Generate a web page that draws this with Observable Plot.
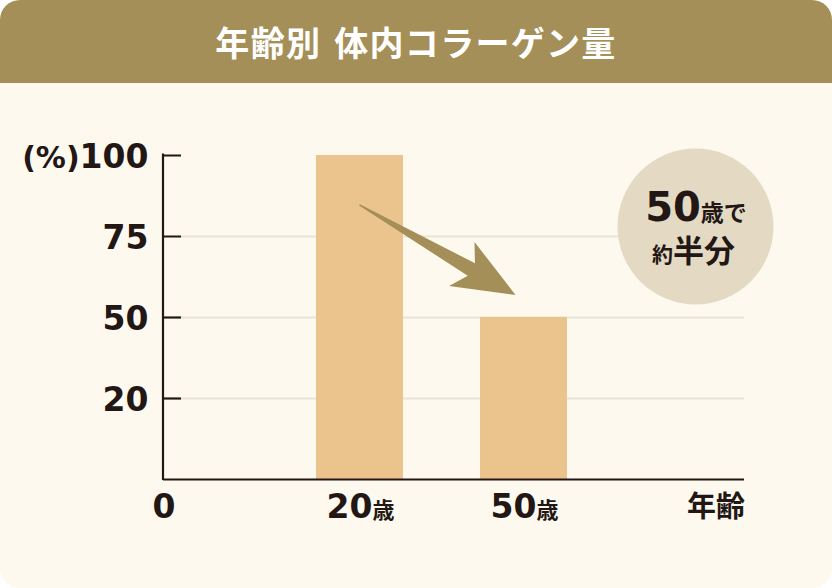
<!DOCTYPE html>
<html>
<head>
<meta charset="utf-8">
<script src="https://cdn.jsdelivr.net/npm/d3@7"></script>
<script src="https://cdn.jsdelivr.net/npm/@observablehq/plot@0.6"></script>
<style>
  html, body { margin: 0; padding: 0; background: #ffffff; }
  #card { width: 832px; height: 588px; background: #fdf9ef; border-radius: 20px; overflow: hidden; position: relative; }
  #hdr { height: 83px; background: #a58f58; color: #ffffff; font: 700 34px "Noto Sans CJK JP", sans-serif;
         display: flex; align-items: center; justify-content: center; letter-spacing: 1.3px; }
  #hdr .sp { display: inline-block; width: 13px; }
  #chart svg { display: block; }
</style>
</head>
<body>
<div id="card">
  <div id="hdr"></div>
  <div id="chart"></div>
</div>
<script>
// ---- data ----
const titleParts = ["年齢別", "体内コラーゲン量"];
const ages = ["20歳", "50歳"];
const collagen = [100, 50];
const yTickValues = [25, 50, 75, 100];
const yTickLabels = ["20", "50", "75", "(%)100"];
const gridValues = [25, 50, 75];
const xAxisTitle = "年齢";
const zeroLabel = "0";
const noteLine1 = [["50", "big"], ["歳で", "small"]];
const noteLine2 = [["約", "small"], ["半分", "mid"]];
const arrowStartValue = 84.6;
const arrowEndValue = 56.8;

// ---- styling ----
const INK = "#221714";
const DIGIT = "'DejaVu Sans', sans-serif";
const CJK = "'Noto Sans CJK JP', sans-serif";

document.getElementById("hdr").innerHTML =
  titleParts[0] + '<span class="sp"></span>' + titleParts[1];

const table = ages.map((age, i) => ({age, value: collagen[i]}));

function isDigit(s) { return /^[0-9()%]+$/.test(s); }

function richText(parts, x, y, anchor, sizes) {
  const t = d3.create("svg:text")
    .attr("x", x).attr("y", y)
    .attr("text-anchor", anchor)
    .attr("fill", INK)
    .attr("font-weight", 700);
  for (const [s, kind] of parts) {
    t.append("tspan")
      .attr("font-size", sizes[kind])
      .attr("font-family", isDigit(s) ? DIGIT : CJK)
      .text(s);
  }
  return t.node();
}

function bandwidthOf(x) {
  if (typeof x.bandwidth === "function") return x.bandwidth();
  if (typeof x.bandwidth === "number") return x.bandwidth;
  return 0;
}

// y axis line
function yAxisLine(index, scales, values, dims) {
  return d3.create("svg:line")
    .attr("x1", dims.marginLeft).attr("x2", dims.marginLeft)
    .attr("y1", dims.marginTop - 1.5)
    .attr("y2", dims.height - dims.marginBottom + 1)
    .attr("stroke", INK).attr("stroke-width", 2.2).node();
}

// x labels
function xLabels(index, {x}, values, dims) {
  const g = d3.create("svg:g");
  const bw = bandwidthOf(x);
  const yb = dims.height - dims.marginBottom + 39;
  for (const a of ages) {
    const m = a.match(/^(\d+)(.*)$/);
    g.append(() => richText([[m[1], "d"], [m[2], "c"]], x(a) + bw / 2 + 1, yb, "middle", {d: 33, c: 22}));
  }
  g.append(() => richText([[zeroLabel, "d"]], dims.marginLeft + 1, yb, "middle", {d: 33}));
  g.append(() => richText([[xAxisTitle, "c"]], dims.width - dims.marginRight + 1, yb - 1, "end", {c: 29}));
  return g.node();
}

// arrow
function arrowMark(index, {x, y}) {
  const bw = bandwidthOf(x);
  const x0 = x(ages[0]) + bw / 2, y0 = y(arrowStartValue);
  const x1 = x(ages[1]) + bw / 2 - 8, y1 = y(arrowEndValue);
  const dx = x1 - x0, dy = y1 - y0, L = Math.hypot(dx, dy);
  const ux = dx / L, uy = dy / L, nx = -uy, ny = ux;
  const local = [[0, -0.8], [L - 51, -7.2], [L - 62, -25.4], [L, 0], [L - 62, 25.4], [L - 51, 7.2], [0, 0.8]];
  const pts = local.map(([a, p]) => [x0 + a * ux + p * nx, y0 + a * uy + p * ny]);
  return d3.create("svg:polygon")
    .attr("points", pts.map(p => p.join(",")).join(" "))
    .attr("fill", "#a58f58").node();
}

// badge
function badge(index, scales, values, dims) {
  const g = d3.create("svg:g");
  const cx = dims.width - dims.marginRight - 48.5;
  const cy = dims.marginTop + 71.5;
  g.append("circle").attr("cx", cx).attr("cy", cy).attr("r", 78).attr("fill", "#e4dac4");
  g.append(() => richText(noteLine1, cx + 0.5, cy - 5.5, "middle", {big: 40, small: 23, mid: 32}));
  g.append(() => richText(noteLine2, cx - 2, cy + 35.5, "middle", {big: 40, small: 21, mid: 31}));
  return g.node();
}

const chart = Plot.plot({
  width: 832,
  height: 505,
  marginLeft: 163,
  marginRight: 88,
  marginTop: 72,
  marginBottom: 109,
  style: {background: "transparent", color: INK, overflow: "visible"},
  x: {type: "band", domain: ages, range: [239, 645], padding: 0.468, axis: null},
  y: {domain: [0, 100]},
  marks: [
    Plot.ruleY(gridValues, {stroke: "#e8e4d6", strokeWidth: 2, insetLeft: 18}),
    Plot.barY(table, {x: "age", y: "value", fill: "#ebc48d"}),
    Plot.ruleY(yTickValues, {stroke: INK, strokeWidth: 2.2, insetRight: 563}),
    Plot.ruleY([0], {stroke: INK, strokeWidth: 2.2}),
    yAxisLine,
    Plot.axisY(yTickValues, {
      anchor: "left",
      tickSize: 0,
      tickPadding: 15,
      tickFormat: d => yTickLabels[yTickValues.indexOf(d)],
      fontSize: 33,
      fontWeight: 700,
      fontFamily: DIGIT,
      fill: INK,
      dy: 2,
      label: null
    }),
    arrowMark,
    xLabels,
    badge
  ]
});

document.getElementById("chart").appendChild(chart);

// split "(%)100" into a slightly smaller "(%)" and the number
d3.select(chart).selectAll("text").each(function () {
  const t = d3.select(this);
  const s = this.textContent;
  if (s === yTickLabels[yTickLabels.length - 1] && s.startsWith("(%)")) {
    t.text(null);
    t.append("tspan").attr("font-size", 30).text("(%)");
    t.append("tspan").text(s.slice(3));
  }
});
</script>
</body>
</html>
